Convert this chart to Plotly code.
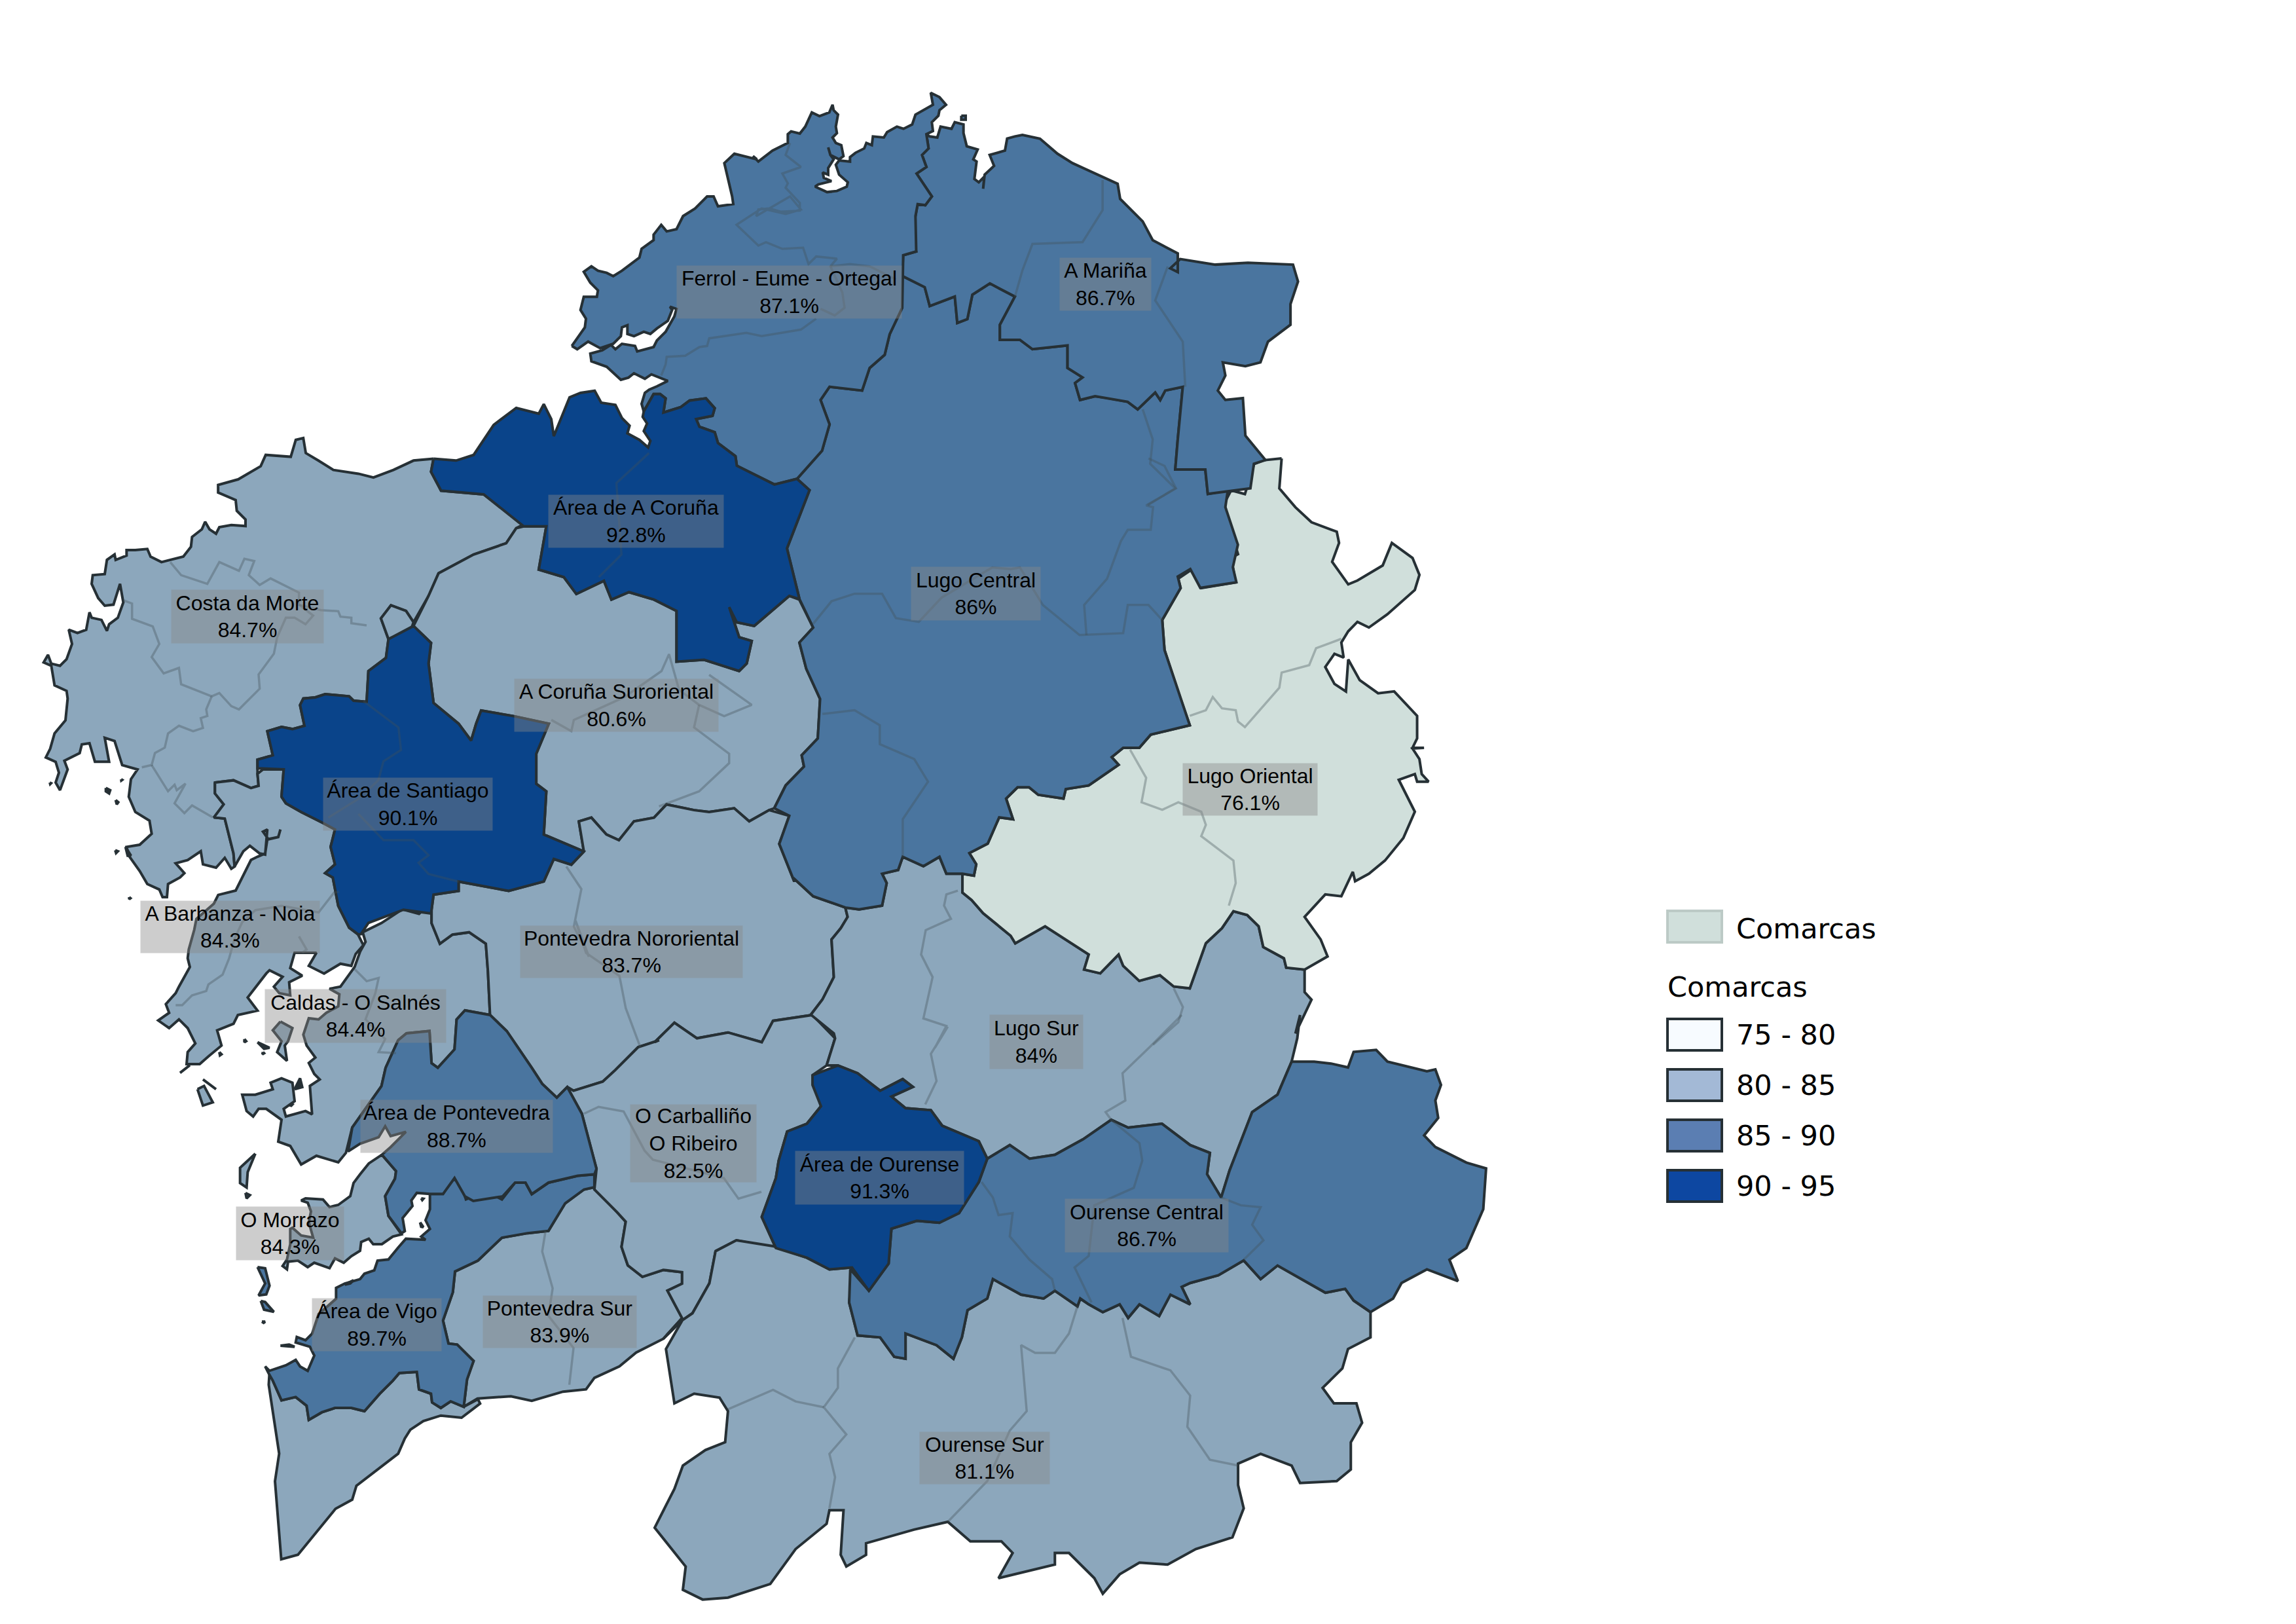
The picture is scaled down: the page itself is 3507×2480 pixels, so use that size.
import plotly.graph_objects as go


def crop(x0, y0, fx, fy):
    def conv(pts):
        return [(x0 + x / fx, y0 + y / fy) for x, y in pts]
    return conv


c2 = crop(50, 600, 1.3067, 1.7422)
c3 = crop(200, 1350, 1.568, 1.4255)
c4 = crop(850, 120, 1.3067, 1.7422)
c5 = crop(1200, 700, 1.4255, 1.7422)
c6 = crop(1000, 1550, 1.1615, 1.686)
c7 = crop(230, 1400, 3, 3)
c8 = crop(1150, 130, 3, 3)
z3 = crop(60, 780, 3, 3)
z4 = crop(100, 1150, 3, 3)
z5 = crop(380, 1800, 3, 3)
z6 = crop(870, 300, 3, 3)

COSTA_DA_MORTE = [
    c2([(800,175),(760,180),(720,205),(680,225),(650,215),(600,205),(570,180),(545,160),(540,120),(525,125),(515,170),(465,165),(455,195),(410,230),(370,245),(370,265),(405,285)])
    + z3([(905,0),(945,40),(945,70),(880,65),(825,75),(810,105),(780,85),(760,50),(745,85),(700,120),(695,165),(660,210),(600,225),(560,235),(510,210),(495,175),(440,180),(400,180),(400,205),(350,225),(345,200),(310,225),(300,290),(245,295),(240,335),(270,400),(300,435),(340,430),(370,335),(385,420),(360,490),(320,520),(310,550),(285,500),(240,490),(230,465),(215,545),(175,560),(135,545),(150,610),(125,680),(95,710),(55,700),(40,660),(20,695),(55,710),(70,800),(125,825),(130,860),(120,960),(70,1020),(50,1090),(30,1130),(75,1150),(90,1200),(75,1245),(95,1280),(130,1185),(115,1145),(185,1110),(195,1070),(230,1065),(255,1150),(320,1150),(300,1040),(345,1055),(380,1165)])
    + z4([(330,75),(300,120),(290,200),(320,270),(385,310),(395,370),(340,420),(280,430),(290,470),(340,540),(375,600),(430,625),(445,660),(465,660),(470,600),(525,570),(545,550),(505,505),(560,490),(620,450),(630,510),(690,525),(730,480),(760,530),(775,520),(770,460),(730,300),(680,295),(725,235),(685,185),(685,135),(770,125),(850,160),(885,150),(880,95),(880,40)])
    + z3([(1000,1140),(1070,1120),(1045,1010),(1110,990),(1160,1000),(1215,985),(1195,890),(1210,860),(1265,855),(1310,840),(1420,850),(1440,870),(1500,875)])
    + c2([(670,740),(705,705),(710,655),(695,600),(715,565),(745,580),(760,610),(790,540),(810,480),(880,430),(945,400),(965,360),(980,350),(900,270),(815,260),(795,210)]),
    c2([(710,655),(695,600),(715,565),(745,580),(760,610),(755,630)]),
]
BARBANZA = [
    z4([(685,135),(770,125),(850,160),(885,150),(880,95),(905,75),(1000,75),(990,200),(1010,230),(1080,270),(1180,320),(1235,350),(1215,430),(1235,510),(1190,550),(1225,570),(1250,700),(1300,800),(1340,830)])
    + c7([(975,130),(940,170),(920,225),(870,215),(795,260),(725,225),(760,165),(660,165),(640,235),(695,270),(635,300),(640,360),(590,350),(565,320),(605,275),(545,245),(530,260),(445,370),(490,430),(400,450),(380,490),(305,520),(325,590),(265,640),(225,675),(165,675),(170,620),(205,580),(170,510),(130,470),(85,510),(35,475),(85,440),(70,400),(115,350),(130,320),(180,230),(170,190),(175,150),(200,60)])
    + z4([(600,760),(680,690),(700,650),(780,630),(800,590),(825,540),(850,490),(880,475),(915,460),(925,395),(975,385),(985,350),(975,385),(930,395),(905,360),(925,350),(915,465),(890,460),(845,425),(815,450),(775,520),(770,460),(730,300),(680,295),(725,235),(685,185)]),
    c7([(215,790),(245,775),(285,850),(240,865)]),
]
CALDAS_SALNES = [
    c3([(555,105),(600,85),(650,55),(690,65),(720,40),(720,85),(740,130),(770,110),(810,105),(850,130),(855,190),(860,285),(800,275),(780,295),(775,360),(735,400),(720,390),(715,320),(660,325),(640,340),(610,400),(600,440),(530,530),(515,585)])
    + c7([(860,1125),(760,1095),(690,1135),(640,1050),(585,1030),(600,930),(530,880),(495,880),(470,915),(440,890),(420,815),(480,815),(560,790),(550,760),(600,740),(650,760),(660,845),(610,880),(620,915),(710,890),(740,905),(730,775),(775,745),(750,720),(725,670),(755,645),(715,590),(700,540),(725,465),(770,470),(805,440),(860,410),(865,355),(820,330),(870,320),(935,230),(960,160),(985,115)]),
    c7([(595,480),(650,510),(630,570),(615,590),(625,660),(580,620),(600,570),(560,520)]),
]
MORRAZO = [
    c7([(1060,1090),(1000,1130),(960,1180),(930,1220),(915,1280),(860,1320),(820,1330),(790,1295),(710,1290),(690,1300)])
    + z5([(270,110),(285,150),(275,200),(295,270),(240,260),(200,225),(190,230),(190,300),(175,370),(155,400),(175,415),(180,380),(225,375),(270,405),(300,385),(370,410),(395,365),(435,385),(470,355),(510,330),(515,290),(550,275),(570,300),(610,300),(660,265),(700,255),(640,170),(625,80),(670,0)])
    + c3([(635,625)]),
    c7([(480,1085),(410,1150),(410,1220),(440,1240),(445,1170)]),
    c7([(435,1265),(455,1275),(440,1290)]),
]
CORUNA_SURORIENTAL = [
    c2([(980,355),(1025,355),(1010,470),(1060,490),(1085,535),(1140,500),(1155,550),(1190,530),(1240,550),(1285,580),(1285,715),(1340,710),(1410,740),(1425,720),(1435,660),(1410,650),(1390,570),(1405,610),(1440,620),(1510,540),(1530,550)])
    + c5([(60,450),(30,490),(45,560),(75,640),(70,745),(35,790),(40,820),(0,870)])
    + c2([(1480,1105),(1470,1110),(1430,1140),(1400,1105),(1350,1115),(1320,1110),(1265,1095),(1240,1130),(1200,1140),(1170,1190),(1145,1175),(1115,1130),(1090,1140),(1100,1220),(1020,1175),(1025,1060),(1005,1040),(1005,960),(1030,880),(960,860),(895,845),(885,880),(875,925),(850,880),(800,825),(790,720),(795,665),(760,620),(790,540),(810,480),(880,430),(945,400),(965,360)])
]
PONTEVEDRA_NORORIENTAL = [
    c2([(795,1385),(800,1335),(850,1325),(850,1300),(950,1325),(1020,1300),(1040,1240),(1075,1255),(1100,1220),(1090,1140),(1115,1130),(1145,1175),(1170,1190),(1200,1140),(1240,1130),(1265,1095),(1320,1110),(1350,1115),(1400,1105),(1430,1140),(1470,1110),(1510,1125),(1490,1200),(1520,1300)])
    + c5([(20,1120),(60,1165),(130,1195),(135,1220),(120,1250),(100,1280),(105,1380),(80,1440),(55,1480),(105,1530)])
    + c6([(320,60),(280,0),(210,15),(190,70),(130,45),(75,60),(35,20),(0,70)])
    + c3([(1215,355),(1160,405),(1130,430),(1060,450),(1045,442),(1020,465),(985,435),(960,400),(900,320),(860,285),(855,190),(850,130),(810,105),(770,110),(740,130),(720,85),(720,40)])
]
PONTEVEDRA_SUR = [
    c3([(1110,660),(1165,715),(1185,735),(1175,790),(1190,830),(1225,855),(1275,840),(1320,845),(1320,870),(1285,885),(1320,945),(1275,990),(1210,1020),(1170,1050),(1110,1075),(1090,1100),(1035,1105),(960,1125),(910,1115),(830,1120)])
    + z5([(985,1045),(1000,920),(1030,835),(955,760),(915,755),(890,650),(935,520),(945,425),(1050,375),(1160,270)])
    + c3([(950,760),(1000,755),(1040,695),(1085,665)]),
    z5([(95,885),(110,925),(150,1015),(215,1000),(265,1040),(275,1105),(335,1070),(395,1050),(470,1050),(530,1065),(600,985),(660,925),(690,890),(770,885),(780,965),(835,985),(840,1025),(880,1050),(925,1020),(985,1045),(1050,1010),(1060,1030),(975,1095),(880,1085),(800,1110),(740,1150),(715,1190)])
    + c3([(640,1240),(540,1310),(530,1340),(490,1360),(400,1460),(360,1470),(345,1300),(355,1240),(345,1180),(330,1090)]),
]
CARBALLINO_RIBEIRO = [
    c3([(1045,442),(1060,450),(1130,430),(1160,405),(1215,355),(1265,340)])
    + c6([(0,70),(35,20),(75,60),(130,45),(190,70),(210,15),(280,0),(320,60),(305,130),(280,155),(295,235),(270,280),(235,300),(220,375),(215,420),(190,520),(215,600),(145,580),(108,608),(97,691),(67,768),(49,786)])
    + c3([(1275,990),(1320,945),(1285,885),(1320,870),(1320,845),(1275,840),(1225,855),(1190,830),(1175,790),(1185,735),(1165,715),(1110,665),(1115,620),(1080,500)])
]
OURENSE_SUR = [
    c6([(108,608),(145,580),(210,595),(270,625),(310,655),(350,650),(350,680),(345,740),(360,825),(400,830),(425,880),(445,885),(445,820),(500,850),(530,885),(545,830),(555,760),(590,730),(600,680),(650,720),(690,730),(710,710),(750,750),(755,730),(770,745),(795,765),(825,745),(840,780),(860,745),(895,775),(915,720),(950,745),(935,700),(950,690),(1000,670),(1045,632),(1075,680),(1105,645),(1190,715),(1225,705),(1240,735),(1270,765),(1270,830),(1230,860),(1220,910),(1185,960),(1205,1000),(1245,1000),(1255,1050),(1235,1100),(1235,1170),(1210,1200),(1145,1205),(1130,1160),(1075,1130),(1035,1155),(1035,1210),(1045,1270),(1025,1345),(960,1375),(910,1415),(860,1410),(825,1440),(795,1490),(780,1450),(735,1385),(710,1385),(710,1415),(610,1450),(635,1385),(615,1355),(560,1355),(520,1305),(460,1325),(375,1360),(375,1390),(340,1420),(330,1390),(335,1275),(310,1275),(305,1310),(250,1375),(205,1465),(130,1500),(85,1505),(50,1480),(55,1420),(0,1320),(35,1220),(50,1160),(90,1120),(125,1100),(130,1020),(115,985),(70,975),(35,1000),(20,860),(49,786),(67,768),(97,691)])
]
LUGO_SUR = [
    c5([(1130,1360),(1090,1355),(1085,1330),(1040,1300),(1030,1245),(1005,1215),(975,1205),(950,1250),(915,1290),(880,1410),(845,1405),(815,1375),(770,1390),(735,1350),(725,1320),(685,1370),(650,1360),(660,1320),(565,1245),(500,1290),(490,1270),(430,1210),(405,1175),(385,1155),(385,1105),(350,1105),(335,1060),(300,1085),(255,1060),(245,1095),(210,1105),(220,1130),(210,1190),(160,1200),(130,1195),(135,1220),(120,1250),(100,1280),(105,1380),(80,1440),(55,1480),(105,1530)])
    + c6([(320,60),(305,130),(325,130),(360,150),(400,195),(440,165),(458,185),(420,210),(445,240),(490,245),(510,285),(575,325),(590,370),(630,335),(665,370),(710,360),(760,320),(810,270),(840,290),(900,280),(950,335),(985,355),(980,410),(1005,470),(1020,400),(1050,290),(1060,250),(1105,205),(1130,120),(1140,60),(1145,0)])
    + c5([(1110,1530),(1145,1440),(1130,1420)])
]
LUGO_ORIENTAL = [
    c5([(1080,0),(1075,80),(1110,130),(1145,170),(1200,195),(1205,225),(1190,275),(1225,335),(1245,325),(1300,285),(1320,225),(1365,265),(1380,310),(1370,350),(1310,415),(1270,450),(1245,435),(1225,460),(1210,490),(1215,530),(1195,520),(1175,555),(1195,600),(1220,620),(1225,535),(1250,590),(1290,625),(1325,620),(1375,685),(1375,745),(1365,770),(1390,770),(1365,772),(1380,800),(1385,840),(1400,860),(1375,860),(1370,840),(1335,855),(1370,940),(1345,1010),(1305,1070),(1270,1105),(1240,1125),(1235,1100),(1210,1165),(1175,1160),(1130,1220),(1165,1280),(1180,1325),(1130,1360),(1090,1355),(1085,1330),(1040,1300),(1030,1245),(1005,1215),(975,1205),(950,1250),(915,1290),(880,1410),(845,1405),(815,1375),(770,1390),(735,1350),(725,1320),(685,1370),(650,1360),(660,1320),(565,1245),(500,1290),(490,1270),(430,1210),(405,1175),(385,1155),(385,1105),(410,1110),(415,1080),(400,1050),(440,1025),(465,955),(495,960),(480,905),(505,875),(530,875),(550,895),(605,905),(610,880),(660,870),(725,815),(710,795),(735,770),(770,770),(795,735),(880,710),(860,640),(825,510),(820,430),(860,345),(855,320),(885,295),(905,345),(980,330),(970,265),(985,255),(975,215),(955,120),(970,85),(1000,95),(1020,15),(1040,5)])
]
OURENSE_CENTRAL = [
    c6([(590,370),(630,335),(665,370),(710,360),(760,320),(810,270),(840,290),(900,280),(950,335),(985,355),(980,410),(1005,470),(1020,400),(1050,290),(1060,250),(1105,205),(1130,120),(1170,120),(1200,125),(1230,135),(1240,95),(1280,90),(1300,120),(1370,145),(1385,140),(1395,180),(1385,220),(1390,265),(1365,310),(1385,340),(1440,380),(1475,395),(1470,500),(1440,600),(1410,630),(1425,685),(1370,655),(1325,690),(1310,730),(1270,765),(1240,735),(1225,705),(1190,715),(1105,645),(1075,680),(1045,632),(1000,670),(950,690),(935,700),(950,745),(915,720),(895,775),(860,745),(840,780),(825,745),(795,765),(770,745),(755,730),(750,750),(710,710),(690,730),(650,720),(600,680),(590,730),(555,760),(545,830),(530,885),(500,850),(445,820),(445,885),(425,880),(400,830),(360,825),(345,740),(347,655),(365,685),(380,710),(415,640),(420,550),(465,530),(505,535),(540,510),(575,430)])
]
LUGO_CENTRAL = [
    c4([(690,525),(735,555),(745,605),(795,580),(800,650),(820,640),(830,575),(865,545),(915,580),(885,655),(885,695),(925,695),(950,720),(1020,710),(1020,770),(1050,795),(1035,810),(1045,855),(1075,845),(1100,850),(1140,860),(1160,880),(1195,835),(1205,855),(1215,830),(1250,820),(1240,960),(1235,1040),(1295,1040),(1300,1105),(1340,1095),(1335,1140),(1360,1240),(1350,1300),(1357,1340),(1285,1355),(1265,1305),(1240,1325)])
    + c5([(860,345),(820,430),(825,510),(860,640),(880,710),(795,735),(770,770),(735,770),(710,795),(725,815),(660,870),(610,880),(605,905),(550,895),(530,875),(505,875),(480,905),(495,960),(465,955),(440,1025),(400,1050),(415,1080),(410,1110),(385,1105),(350,1105),(335,1060),(300,1085),(255,1060),(245,1095),(210,1105),(220,1130),(210,1190),(160,1200),(130,1195),(60,1165),(20,1120)])
    + c2([(1520,1300),(1490,1200),(1510,1125),(1480,1105),(1503,1044)])
    + c5([(40,820),(35,790),(70,745),(75,640),(45,560),(30,490),(60,450)])
    + c4([(485,1385),(460,1250),(505,1095),(480,1065),(530,990),(545,920),(527,855),(545,820),(610,830),(625,770),(655,735),(665,680),(690,610)])
]
A_MARINA = [
    c8([(795,225),(810,235),(845,240),(860,190),(910,200),(925,170),(965,180),(965,220),(980,280),(1030,295),(1010,340),(1025,350),(1015,430),(1035,445),(1060,420),(1055,475),(1062,410),(1105,370),(1085,320),(1155,300),(1165,245),(1200,235)])
    + c4([(930,150),(965,160),(1000,200),(1030,225),(1080,255),(1120,280),(1125,320),(1170,380),(1190,430),(1240,465),(1240,515),(1225,505),(1245,480),(1315,495),(1380,490),(1470,495),(1480,540),(1465,600),(1465,655),(1420,700),(1405,755),(1375,765),(1330,755),(1335,790),(1320,830),(1335,855),(1370,850),(1375,950),(1415,1015),(1392,1025),(1385,1090),(1300,1105),(1295,1040),(1235,1040),(1240,960),(1250,820),(1215,830),(1205,855),(1195,835),(1160,880),(1140,860),(1100,850),(1075,845),(1045,855),(1035,810),(1050,795),(1020,770),(1020,710),(950,720),(925,695),(885,695),(885,655),(915,580),(865,545),(830,575),(820,640),(800,650),(795,580),(745,605),(735,555),(690,525),(692,470),(718,460),(705,385)])
    + c8([(745,600),(755,545),(790,550),(820,510),(780,450),(750,405),(795,375),(775,320),(805,290)]),
    c8([(955,140),(975,140),(975,158),(955,158)]),
]
FERROL_EUME_ORTEGAL = [
    z6([(10,685),(70,600),(75,560),(50,520),(65,460),(125,460),(130,430),(95,395),(65,345),(100,320),(130,340),(170,350),(200,365),(240,340),(320,280),(330,240),(385,200),(385,175),(420,130),(445,160),(490,150),(520,90),(575,55),(630,0),(660,0),(680,45),(750,35),(745,0)])
    + c4([(335,225),(355,200),(400,215)])
    + c8([(0,325),(25,350),(90,300),(160,265),(160,225),(175,212),(215,222),(240,190),(270,125),(305,142),(350,125),(365,90),(370,115),(390,135),(380,190),(385,220),(365,240),(380,265),(405,275),(415,325),(395,340),(355,320),(345,285),(355,320),(370,340),(345,380),(345,410),(320,400),(325,425),(360,440),(300,455),(285,465),(340,490),(385,485),(430,465),(435,445),(395,410),(380,365),(395,345),(445,350),(445,330),(470,310),(510,290),(520,265),(545,275),(550,235),(600,240),(615,215),(660,190),(690,200),(730,180),(745,135),(825,90),(815,35),(855,55),(885,90),(855,115),(850,140),(820,170),(825,210),(795,225),(805,290),(775,320),(795,375),(750,405),(780,450),(820,510),(790,550),(755,545),(745,600)])
    + c4([(718,460),(692,470),(690,610),(665,680),(655,735),(625,770),(610,830),(545,820),(527,855),(545,920),(530,990),(480,1065),(435,1080),(360,1030)])
    + z6([(760,1190),(680,1130),(665,1080),(595,1055),(580,1020),(655,1005),(665,970),(625,925),(550,935),(510,965),(430,990),(440,925),(415,905),(385,905),(340,985),(330,950),(345,900),(365,885),(400,870),(450,845),(375,815),(345,835),(295,810),(270,830),(235,840),(170,780),(100,755),(95,720),(150,705),(190,680),(210,700),(240,675),(300,685),(310,710),(385,690),(400,660),(440,620),(480,550),(490,515),(460,505),(470,520),(450,570),(400,605),(370,630),(340,620),(295,640),(265,630),(265,590),(240,600),(235,640),(200,675),(140,695),(85,665),(35,700)])
]
AREA_VIGO = [
    z5([(830,70),(890,70),(930,5),(965,5),(995,95),(1030,80),(1050,95),(1110,70),(1160,95)])
    + c3([(920,650),(945,650),(960,675),(1000,650),(1070,635),(1110,632),(1110,660),(1085,665),(1040,695),(1000,755),(950,760)])
    + z5([(1160,270),(1050,375),(945,425),(935,520),(890,650),(915,755),(955,760),(1030,835),(1000,920),(985,1045),(925,1020),(880,1050),(840,1025),(835,985),(780,965),(770,885),(690,890),(660,925),(600,985),(530,1065),(470,1050),(395,1050),(335,1070),(275,1105),(265,1040),(215,1000),(150,1015),(110,925),(90,890),(75,860),(95,880),(170,855),(215,830),(235,860),(270,880),(300,810),(280,770),(215,750),(220,725),(260,740),(290,710),(320,620),(400,550),(400,500),(440,480),(510,460),(530,435),(575,420),(590,375),(640,370),(685,315),(720,275),(810,280),(790,265),(830,230),(810,190),(830,140)]),
    z5([(40,405),(75,410),(95,490),(80,530),(45,535),(75,480)]),
    z5([(55,560),(75,565),(115,610),(70,600)]),
]
AREA_PONTEVEDRA = [
    c3([(640,340),(660,325),(715,320),(720,390),(735,400),(775,360),(780,295),(800,275),(860,285),(900,320),(960,400),(985,435),(1020,465),(1045,442),(1080,500),(1115,620),(1110,632),(1070,635),(1000,650),(960,675),(945,650),(920,650),(890,680),(820,690),(800,680),(775,640)])
    + z5([(890,70),(830,70),(770,65),(745,100),(750,125),(705,180),(715,240),(700,250),(640,170),(625,80),(670,0)])
    + c3([(635,625)])
    + c7([(1060,1090),(1100,1055),(1170,985),(1100,1005),(1075,960),(1045,1010),(960,1040),(905,1075)])
    + c3([(530,530),(600,440),(610,400)])
]
AREA_SANTIAGO = [
    c2([(760,620),(795,665),(790,720),(800,825),(850,880),(875,925),(885,880),(895,845),(960,860),(1030,880),(1005,960),(1005,1040),(1025,1060),(1020,1175),(1100,1220),(1075,1255),(1040,1240),(1020,1300),(950,1325),(850,1300),(850,1325),(800,1335),(795,1385),(740,1375),(670,1410),(655,1440)])
    + z4([(1340,830),(1300,800),(1250,700),(1225,570),(1190,550),(1235,510),(1215,430),(1235,350),(1180,320),(1080,270),(1010,230),(990,200),(1000,75)])
    + z3([(1000,1180),(1000,1140),(1070,1120),(1045,1010),(1110,990),(1160,1000),(1215,985),(1195,890),(1210,860),(1265,855),(1310,840),(1420,850),(1440,870),(1500,875)])
    + c2([(670,740),(705,705),(710,655)])
]
AREA_CORUNA = [
    c2([(800,175),(845,180),(880,165),(905,115),(920,85),(965,40),(1010,55),(1020,30),(1035,70),(1040,115)])
    + z6([(0,920),(50,900),(115,890),(145,945),(210,955),(240,1015),(275,1050),(265,1085),(320,1115),(360,1150),(370,1120),(340,1075),(355,1040),(335,1010),(340,985),(385,905),(415,905),(440,925),(430,990),(510,965),(550,935),(625,925),(665,970),(655,1005),(580,1020),(595,1055),(665,1080),(680,1130),(760,1190)])
    + c4([(360,1030),(435,1080),(480,1065),(505,1095),(460,1250),(485,1385)])
    + c2([(1510,540),(1440,620),(1405,610),(1390,570),(1410,650),(1435,660),(1425,720),(1410,740),(1340,710),(1285,715),(1285,580),(1240,550),(1190,530),(1155,550),(1140,500),(1085,535),(1060,490),(1010,470),(1025,355),(980,355),(900,270),(815,260),(795,210)])
]
AREA_OURENSE = [
    c6([(280,155),(325,130),(360,150),(400,195),(440,165),(458,185),(420,210),(445,240),(490,245),(510,285),(575,325),(590,370),(575,430),(540,510),(505,535),(465,530),(420,550),(415,640),(380,710),(365,680),(350,650),(310,655),(270,625),(215,600),(190,520),(215,420),(220,375),(235,300),(270,280),(295,235),(280,180)])
]

# rocks and islets off the rias
ISLETS = [
    z3([(305,1270),(325,1280),(320,1295),(305,1285)]), z3([(350,1325),(362,1335),(355,1345)]),
    z3([(48,1245),(54,1248),(50,1252)]), z3([(375,1230),(380,1233),(376,1236)]),
    z4([(228,445),(240,450),(232,458)]), z4([(292,660),(298,665),(292,670)]), z4([(275,430),(300,470),(285,470)]),
    c7([(135,715),(180,680),(150,700)]), c7([(240,745),(300,790),(260,760)]), c7([(430,560),(438,570),(430,575)]),
    c7([(490,575),(545,600),(520,605)]), c7([(515,620),(520,625),(512,630)]), c7([(315,620),(325,630),(318,635)]),
    c7([(660,790),(685,740),(695,780)]), c7([(640,855),(650,860),(642,868)]),
    z5([(145,765),(210,770),(185,760)]), z5([(60,655),(75,655),(68,660)]), z5([(790,90),(800,92),(795,98)]),
    z5([(785,200),(800,222),(790,220)]), z5([(440,485),(480,465),(465,480)]),
]

# thin grey municipal lines inside the comarcas
INNER_LINES = [
    z3([(600,235),(650,295),(770,335),(825,235),(915,275),(940,220),(985,230),(960,295),(1010,340),(1060,310),(1190,375),(1190,430),(1290,455),(1370,460),(1380,485),(1430,490),(1430,515),(1500,525)]),
    z3([(385,410),(425,425),(425,495),(520,530),(550,610),(515,670),(570,745),(640,720),(650,795),(790,850)]),
    z3([(790,850),(825,835),(880,895),(915,910),(1010,815),(1005,750),(1075,655),(1090,580),(1130,490),(1170,490),(1220,520),(1255,480),(1190,430)]),
    z3([(790,850),(765,910),(770,940),(740,950),(750,995),(705,1010),(640,985),(590,1020),(575,1085),(530,1110),(515,1165),(470,1175)]),
    z3([(515,1165),(590,1285),(620,1255),(630,1280),(670,1250),(620,1340),(665,1385),(700,1350),(795,1405)]),
    c2([(1035,870),(1075,900),(1080,870),(1180,810),(1255,740),(1270,695),(1290,790),(1330,830),(1380,860),(1435,830),(1350,750)]),
    c2([(1330,830),(1320,890),(1390,960),(1390,985),(1330,1060),(1290,1080),(1250,1100)]),
    c2([(1230,160),(1190,210),(1165,240),(1175,430),(1130,490)]),
    c2([(660,820),(730,890),(735,950),(700,980),(690,1030),(650,1080),(590,1130)]),
    c2([(650,1120),(700,1190),(760,1190),(790,1230),(770,1250),(790,1280),(850,1300)]),
    c2([(1065,1260),(1095,1320),(1080,1420),(1110,1500)]) + c3([(1065,80),(1090,150),(1170,200),(1185,270),(1220,355)]),
    c7([(935,240),(990,295),(1045,280),(1030,350),(985,470),(1075,560),(1045,620),(1125,625)]),
    c7([(680,90),(715,150),(695,165)]),
    c7([(115,405),(145,405),(190,360),(255,340),(265,310),(330,265),(360,190),(385,100),(420,25)]) + z4([(870,720),(990,700),(1160,730),(1230,640),(1255,635)]),
    c3([(993,755),(985,800),(1010,880),(1000,940),(1060,1010),(1050,1090)]),
    c3([(1085,500),(1120,485),(1180,495),(1230,580),(1250,600),(1420,640),(1455,685),(1510,670)]),
    c6([(355,830),(325,910),(325,960),(300,1010),(340,1080),(310,1130),(320,1190),(310,1270)]),
    c6([(130,1015),(210,965),(250,995),(300,1010)]),
    c6([(750,750),(735,820),(710,870),(675,870),(650,850),(660,1020),(630,1070),(590,1200),(520,1305)]),
    c6([(830,780),(845,880),(915,915),(950,980),(945,1060),(985,1145),(1035,1160)]),
    c6([(580,430),(600,470),(610,515),(635,510),(630,570),(665,630),(705,680),(710,710)]),
    c6([(810,270),(860,330),(865,375),(850,445),(780,490),(770,620),(745,650),(775,740)]),
    c6([(1005,470),(1040,490),(1075,495),(1060,540),(1080,580),(1045,630)]),
    c5([(375,1150),(350,1160),(345,1190),(360,1225),(305,1255),(295,1320),(320,1380),(300,1490),(350,1510),(325,1568)]) + c6([(520,30),(490,100),(500,170),(480,230)]),
    c6([(935,0),(880,80),(830,150),(835,220),(800,250),(810,270)]),
    c5([(845,1410),(865,1460),(855,1500),(800,1560)]),
    c5([(80,680),(150,670),(205,710),(205,760),(280,800),(310,860),(255,960),(255,1060)]),
    c5([(60,440),(100,380),(150,360),(210,360),(240,425),(290,435),(340,370),(450,290),(490,295),(510,290),(560,390),(640,470),(735,465),(745,390),(790,390),(820,430)]),
    c5([(655,470),(650,390),(700,320),(730,220),(745,190),(795,190),(800,130),(785,125),(850,80),(825,20),(790,0)]),
    c4([(1170,880),(1190,960),(1185,1025),(1235,1090),(1180,1135)]),
    c4([(1090,270),(1090,350),(1050,435),(950,440),(930,510),(915,580)]),
    c4([(1220,500),(1195,590),(1250,700),(1255,820)]),
    c8([(170,265),(150,320),(220,375),(135,405),(160,450),(150,470),(215,540),(215,575),(130,580),(75,565),(25,570),(15,600)]) + z6([(1010,0),(1060,60),(990,80),(880,55),(765,130),(865,225),(900,210),(975,240),(1070,235),(1095,310),(1130,275),(1225,285),(1195,320),(1250,440),(1260,510),(1215,545),(1150,515)]),
    z6([(1130,560),(1060,610),(880,640),(810,625),(640,650),(630,685),(595,690),(530,730),(445,735),(440,770),(420,820)]),
    z6([(1195,320),(1285,310),(1375,320),(1495,380)]),
    c5([(880,685),(915,670),(930,635),(950,665),(980,670),(985,700),(1000,715),(1075,610),(1080,570),(1140,550),(1155,505),(1210,480)]),
    c5([(750,775),(785,850),(775,915),(820,935),(855,915),(905,940),(915,975),(905,1005),(975,1070),(980,1130),(965,1190)]),
]

NAMES = ["Costa da Morte", "A Barbanza - Noia", "Caldas - O Salnés", "O Morrazo", "A Coruña Suroriental",
         "Pontevedra Nororiental", "Pontevedra Sur", "O Carballiño<br>O Ribeiro", "Ourense Sur", "Lugo Sur",
         "Lugo Oriental", "Ourense Central", "Lugo Central", "A Mariña", "Ferrol - Eume - Ortegal",
         "Área de Vigo", "Área de Pontevedra", "Área de Santiago", "Área de A Coruña", "Área de Ourense"]
VALUES = [84.7, 84.3, 84.4, 84.3, 80.6, 83.7, 83.9, 82.5, 81.1, 84, 76.1, 86.7, 86, 86.7, 87.1, 89.7, 88.7, 90.1, 92.8, 91.3]
OUTLINES = [COSTA_DA_MORTE, BARBANZA, CALDAS_SALNES, MORRAZO, CORUNA_SURORIENTAL, PONTEVEDRA_NORORIENTAL,
            PONTEVEDRA_SUR, CARBALLINO_RIBEIRO, OURENSE_SUR, LUGO_SUR, LUGO_ORIENTAL, OURENSE_CENTRAL,
            LUGO_CENTRAL, A_MARINA, FERROL_EUME_ORTEGAL, AREA_VIGO, AREA_PONTEVEDRA, AREA_SANTIAGO,
            AREA_CORUNA, AREA_OURENSE]
# label boxes: left, right, top, bottom
LABEL_BOXES = [(262, 494, 901, 982), (215, 488, 1376, 1455), (405, 681, 1511, 1592), (361, 525, 1843, 1924),
               (786, 1097, 1037, 1117), (795, 1134, 1414, 1493), (738, 972, 1979, 2058), (963, 1155, 1687, 1805),
               (1405, 1603, 2187, 2266), (1512, 1654, 1550, 1632), (1807, 2012, 1166, 1245), (1627, 1876, 1831, 1912),
               (1392, 1589, 866, 947), (1619, 1758, 394, 474), (1034, 1377, 406, 486), (477, 674, 1983, 2063),
               (551, 844, 1680, 1760), (494, 752, 1188, 1268), (838, 1105, 756, 836), (1215, 1472, 1758, 1839)]

CLASS_LABELS = ["75 - 80", "80 - 85", "85 - 90", "90 - 95"]
CLASS_EDGES = [75, 80, 85, 90]
MAP_FILLS = ["#d0dfdb", "#8ca7bc", "#4a759f", "#0a448a"]
LEGEND_FILLS = ["#f7fbff", "#a3b9d6", "#5b7eb2", "#0d47a1"]
BORDER = "#263035"
TEXT_FONT = "Liberation Sans"
LEGEND_FONT = "DejaVu Sans"


def map_fill(value):
    idx = sum(value >= e for e in CLASS_EDGES) - 1
    return MAP_FILLS[idx]


fig = go.Figure()

for name, value, parts in zip(NAMES, VALUES, OUTLINES):
    for part in parts:
        xs = [p[0] for p in part] + [part[0][0]]
        ys = [p[1] for p in part] + [part[0][1]]
        fig.add_scatter(x=xs, y=ys, mode="lines", fill="toself", fillcolor=map_fill(value),
                        line=dict(color=BORDER, width=4), name=name, hoverinfo="name", showlegend=False)

for islet in ISLETS:
    fig.add_scatter(x=[p[0] for p in islet] + [islet[0][0]], y=[p[1] for p in islet] + [islet[0][1]],
                    mode="lines", fill="toself", fillcolor=BORDER, line=dict(color=BORDER, width=4),
                    hoverinfo="skip", showlegend=False)

for line in INNER_LINES:
    fig.add_scatter(x=[p[0] for p in line], y=[p[1] for p in line], mode="lines",
                    line=dict(color="rgba(65,80,85,0.35)", width=3.5), hoverinfo="skip", showlegend=False)

for name, value, box in zip(NAMES, VALUES, LABEL_BOXES):
    left, right, top, bottom = box
    fig.add_annotation(x=(left + right) / 2, y=(top + bottom) / 2, xref="x", yref="y",
                       text=f"{name}<br>{value:g}%", showarrow=False,
                       width=right - left, height=bottom - top, borderpad=0,
                       bgcolor="rgba(135,135,135,0.42)", align="center",
                       font=dict(family=TEXT_FONT, size=32, color="black"))

# legend
fig.add_shape(type="rect", x0=2547, x1=2630, y0=1391, y1=1439, fillcolor="#d0dfdb",
              line=dict(color="#bccac6", width=4))
fig.add_annotation(x=2650, y=1418, text="Comarcas", showarrow=False, xanchor="left",
                   font=dict(family=LEGEND_FONT, size=43, color="black"))
fig.add_annotation(x=2545, y=1507, text="Comarcas", showarrow=False, xanchor="left",
                   font=dict(family=LEGEND_FONT, size=43, color="black"))
for i, (label, colour) in enumerate(zip(CLASS_LABELS, LEGEND_FILLS)):
    top = 1556 + i * 77
    fig.add_shape(type="rect", x0=2547, x1=2630, y0=top, y1=top + 48, fillcolor=colour,
                  line=dict(color=BORDER, width=4))
    fig.add_annotation(x=2650, y=top + 24, text=label, showarrow=False, xanchor="left",
                       font=dict(family=LEGEND_FONT, size=43, color="black"))

# the page body sits 8px in, so the map window is moved by the same amount
fig.update_xaxes(visible=False, range=[8, 3515])
fig.update_yaxes(visible=False, range=[2488, 8])
fig.update_layout(width=3507, height=2480, margin=dict(l=0, r=0, t=0, b=0),
                  paper_bgcolor="white", plot_bgcolor="white")

fig.write_html("out.html")
